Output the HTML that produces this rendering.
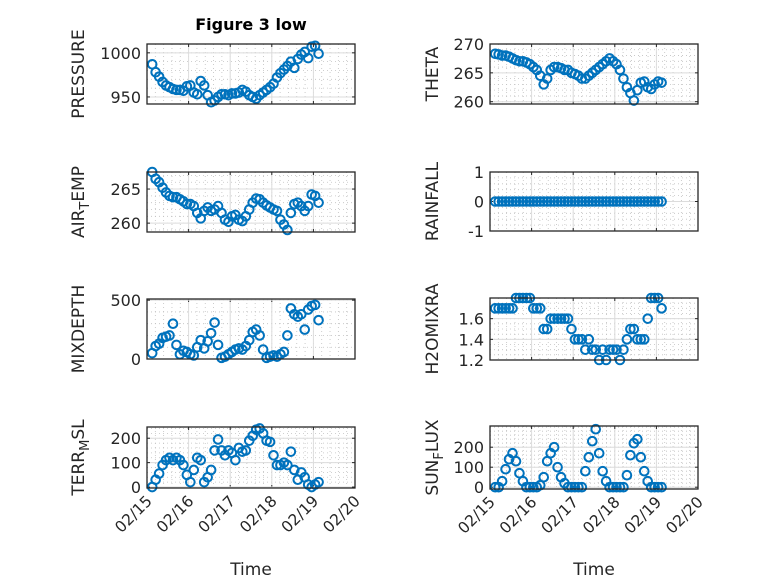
<!DOCTYPE html>
<html><head><meta charset="utf-8"><style>
html,body{margin:0;padding:0;background:#fff;}
svg{display:block;font-family:"DejaVu Sans","Liberation Sans",sans-serif;}
</style></head><body>
<svg id="fig" width="778" height="583" viewBox="0 0 778 583" xmlns="http://www.w3.org/2000/svg">
<rect width="778" height="583" fill="#fff"/>
<text x="251" y="30" font-size="16" font-weight="bold" text-anchor="middle" fill="#000">Figure 3 low</text>
</svg>
<script>
const hours = [3,5,7,9,11,13,15,17,19,21,23,25,27,29,31,33,35,37,39,41,43,45,47,49,51,53,55,57,59,61,63,65,67,69,71,73,75,77,79,81,83,85,87,89,91,93,95,97,99];
const xTickLabels = ["02/15","02/16","02/17","02/18","02/19","02/20"];
const pressure = [987,978,973,967,963,961,959,958,958,957,962,963,955,953,968,963,952,944,946,950,953,953,952,954,954,955,958,956,952,950,948,952,955,958,961,965,972,977,981,985,990,983,993,998,1001,994,1007,1008,999];
const theta = [268.3,268.2,268,268,267.8,267.5,267.2,267,267,266.8,266.5,266,265.5,264.5,263,264,265.5,266,266,265.8,265.5,265.5,265,264.8,264.5,264,264,264.5,265,265.5,266,266.5,267,267.5,267,266.5,265.5,264,262.5,261.5,260.2,262,263.3,263.5,262.5,262.2,263,263.5,263.3];
const airTemp = [267.5,266.5,266,265.2,264.5,264,263.8,263.8,263.5,263.2,262.8,262.8,262.5,261.5,260.7,261.8,262.3,261.8,262,262.5,261.5,260.5,260.2,261,261.2,260.5,260.3,261,262,263,263.6,263.5,263,262.6,262.3,262,261.8,260.5,259.8,259,261.5,262.8,263,262.5,261.8,262.5,264.2,264,263];
const rainfall = [0,0,0,0,0,0,0,0,0,0,0,0,0,0,0,0,0,0,0,0,0,0,0,0,0,0,0,0,0,0,0,0,0,0,0,0,0,0,0,0,0,0,0,0,0,0,0,0,0];
const mixDepth = [50,110,130,180,190,200,300,120,40,70,60,40,30,100,160,90,150,220,310,120,10,20,40,60,80,90,80,110,160,230,250,200,80,10,20,30,20,40,60,200,430,380,360,380,250,420,450,460,330];
const h2oMix = [1.7,1.7,1.7,1.7,1.7,1.7,1.8,1.8,1.8,1.8,1.8,1.7,1.7,1.7,1.5,1.5,1.6,1.6,1.6,1.6,1.6,1.6,1.5,1.4,1.4,1.4,1.3,1.4,1.3,1.3,1.2,1.3,1.2,1.3,1.3,1.3,1.2,1.3,1.4,1.5,1.5,1.4,1.4,1.4,1.6,1.8,1.8,1.8,1.7];
const terrMsl = [0,30,55,90,110,120,110,120,110,90,50,20,70,120,110,20,40,70,150,195,150,130,150,140,110,160,145,150,190,210,235,240,220,190,185,130,90,90,100,90,145,70,30,60,40,10,0,10,20];
const sunFlux = [0,0,30,90,140,170,130,70,30,0,0,0,0,10,50,130,170,200,100,50,20,0,0,0,0,0,80,150,230,290,170,80,30,0,0,0,0,0,60,160,220,240,150,80,30,0,0,0,0];

const NS = "http://www.w3.org/2000/svg";
const svg = document.getElementById('fig');
function mk(tag, attrs, parent){ const e=document.createElementNS(NS,tag); for(const k in attrs) e.setAttribute(k,attrs[k]); (parent||svg).appendChild(e); return e; }

const panels = [
 {key:'pressure', data:pressure, x0:147,x1:355,y0:44,y1:104, ylim:[942,1010], ticks:[950,1000], minorY:10, label:['PRESSURE'], xl:false},
 {key:'theta', data:theta, x0:490,x1:698,y0:44,y1:104, ylim:[259.6,270], ticks:[260,265,270], minorY:1, label:['THETA'], xl:false},
 {key:'air-temp', data:airTemp, x0:147,x1:355,y0:172,y1:232, ylim:[258.7,267.5], ticks:[260,265], minorY:1, label:['AIR','T','EMP'], xl:false},
 {key:'rainfall', data:rainfall, x0:490,x1:698,y0:172,y1:231, ylim:[-1,1], ticks:[-1,0,1], minorY:0.2, label:['RAINFALL'], xl:false},
 {key:'mixdepth', data:mixDepth, x0:147,x1:355,y0:299,y1:359, ylim:[0,510], ticks:[0,500], minorY:100, label:['MIXDEPTH'], xl:false},
 {key:'h2omixra', data:h2oMix, x0:490,x1:698,y0:298,y1:360, ylim:[1.2,1.8], ticks:[1.2,1.4,1.6], ticksTxt:['1.2','1.4','1.6'], minorY:0.05, label:['H2OMIXRA'], xl:false},
 {key:'terr-msl', data:terrMsl, x0:147,x1:355,y0:427,y1:488, ylim:[-4,246], ticks:[0,100,200], minorY:20, label:['TERR','M','SL'], xl:true},
 {key:'sun-flux', data:sunFlux, x0:490,x1:698,y0:426,y1:489, ylim:[-9,306], ticks:[0,100,200], minorY:20, label:['SUN','F','LUX'], xl:true},
];

panels.forEach(p=>{
  const g = mk('g',{});
  
  
  const xs = h => p.x0 + (h/24)/5*(p.x1-p.x0);
  const ys = v => p.y1 - (v-p.ylim[0])/(p.ylim[1]-p.ylim[0])*(p.y1-p.y0);
  mk('rect',{x:p.x0,y:p.y0,width:p.x1-p.x0,height:p.y1-p.y0,fill:'#fff'},g);
  for(let d=0; d<=5; d+=0.2){
    const x = xs(d*24);
    const ln = mk('line',{x1:x,x2:x,y1:p.y0,y2:p.y1,stroke:'#c0c0c0','stroke-width':0.8,'stroke-dasharray':'1,3'},g);
    
    
  }
  const st = Math.ceil(p.ylim[0]/p.minorY)*p.minorY;
  for(let v=st; v<=p.ylim[1]+1e-9; v+=p.minorY){
    const y = ys(v);
    const ln = mk('line',{x1:p.x0,x2:p.x1,y1:y,y2:y,stroke:'#c0c0c0','stroke-width':0.8,'stroke-dasharray':'1,3'},g);
    
    
  }
  xTickLabels.forEach((lab,i)=>{
    const x = xs(i*24);
    const ln = mk('line',{x1:x,x2:x,y1:p.y0,y2:p.y1,stroke:'#dcdcdc','stroke-width':1},g);
    
    
    mk('line',{x1:x,x2:x,y1:p.y1,y2:p.y1-3,stroke:'#262626','stroke-width':1},g);
    mk('line',{x1:x,x2:x,y1:p.y0,y2:p.y0+3,stroke:'#262626','stroke-width':1},g);
    if(p.xl){
      const ax = x+6, ay = p.y1+14;
      const t = mk('text',{x:ax,y:ay,'font-size':15.5,fill:'#262626','text-anchor':'end',transform:`rotate(-45 ${ax} ${ay})`},g);
      t.textContent = lab;
      
      
    }
  });
  p.ticks.forEach((v,i)=>{
    const y = ys(v);
    const ln = mk('line',{x1:p.x0,x2:p.x1,y1:y,y2:y,stroke:'#dcdcdc','stroke-width':1},g);
    
    
    mk('line',{x1:p.x0,x2:p.x0+3,y1:y,y2:y,stroke:'#262626','stroke-width':1},g);
    mk('line',{x1:p.x1,x2:p.x1-3,y1:y,y2:y,stroke:'#262626','stroke-width':1},g);
    const t = mk('text',{x:p.x0-6,y:y+6,'font-size':16,fill:'#262626','text-anchor':'end'},g);
    t.textContent = p.ticksTxt ? p.ticksTxt[i] : String(v);
    
    
  });
  p.data.forEach((v,i)=>{
    const c = mk('circle',{cx:xs(hours[i]),cy:ys(v),r:4.3,fill:'none',stroke:'#0072BD','stroke-width':2},g);
    
    
  });
  const bx = mk('rect',{x:p.x0,y:p.y0,width:p.x1-p.x0,height:p.y1-p.y0,fill:'none',stroke:'#262626','stroke-width':1.3},g);
  
  
  const lx = p.x0 < 300 ? 84 : 438;
  const ly = (p.y0+p.y1)/2;
  const yl = mk('text',{x:lx,y:ly,'font-size':17,fill:'#262626','text-anchor':'middle',transform:`rotate(-90 ${lx} ${ly})`},g);
  
  
  if(p.label.length===1){ yl.textContent = p.label[0]; }
  else {
    const a = mk('tspan',{},yl); a.textContent = p.label[0];
    const b = mk('tspan',{dy:5,'font-size':13},yl); b.textContent = p.label[1];
    const c = mk('tspan',{dy:-5},yl); c.textContent = p.label[2];
  }
  if(p.xl){
    const xt = mk('text',{x:(p.x0+p.x1)/2,y:575,'font-size':17,fill:'#262626','text-anchor':'middle'},g);
    xt.textContent = 'Time';
    
    
  }
});
</script>
</body></html>
